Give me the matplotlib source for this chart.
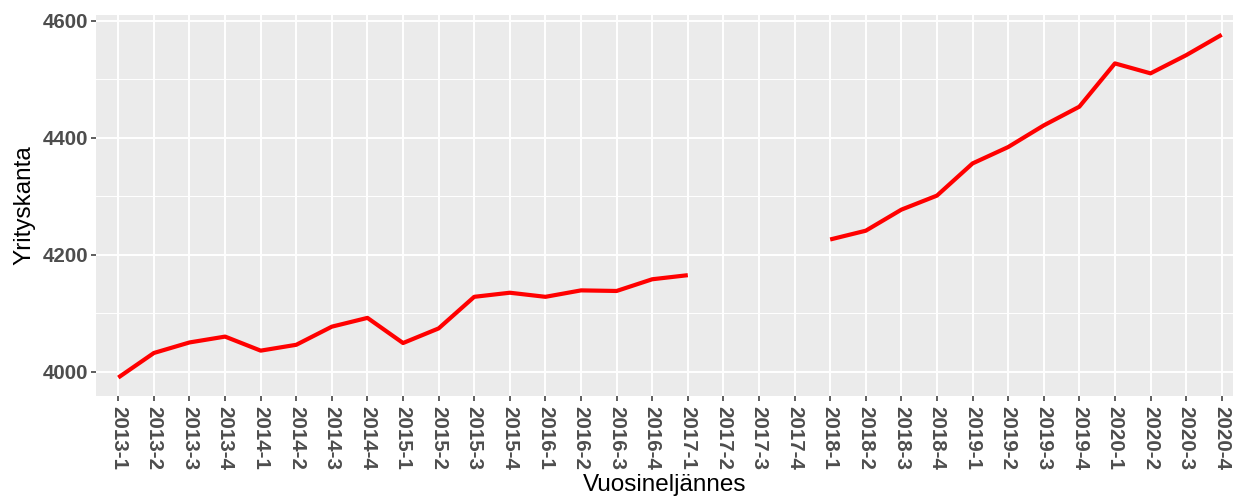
import numpy as np
import matplotlib
matplotlib.use("Agg")
import matplotlib.pyplot as plt

# quarters 2013-1 .. 2020-4
quarters = [f"{y}-{q}" for y in range(2013, 2021) for q in range(1, 5)]
# company count, gap for 2017-2 .. 2017-4
values = [3990, 4032, 4050, 4060, 4036, 4046, 4077, 4092,
          4049, 4074, 4128, 4135, 4128, 4139, 4138, 4158,
          4165, np.nan, np.nan, np.nan, 4226, 4241, 4277, 4301,
          4356, 4384, 4421, 4453, 4527, 4510, 4541, 4576]
y_ticks = [4000, 4200, 4400, 4600]

plt.rcParams['font.family'] = ['Liberation Sans', 'DejaVu Sans']

W, H = 1233, 498
fig = plt.figure(figsize=(W / 100, H / 100), dpi=100)
left, right, top, bottom = 96, 1233, 15, 395.7
ax = fig.add_axes([left / W, 1 - bottom / H, (right - left) / W, (bottom - top) / H])
ax.set_facecolor('#EBEBEB')

x = np.arange(len(quarters))
ax.plot(x, values, color='#FF0000', lw=3.0, solid_capstyle='butt', zorder=3)

# x range: 2013-1 at px 118.3, 2020-4 at px 1221.7
step = (1221.7 - 118.3) / (len(quarters) - 1)
ax.set_xlim(-(118.3 - left) / step, (len(quarters) - 1) + (right - 1221.7) / step)
ppu = (371.7 - 20.7) / 600
ax.set_ylim(4000 - (bottom - 371.7) / ppu, 4600 + (20.7 - top) / ppu)

ax.set_xticks(x)
ax.set_xticklabels(quarters, rotation=270, fontsize=14.8, fontweight='bold', color='#4D4D4D')
ax.set_yticks(y_ticks)
ax.set_yticklabels([str(v) for v in y_ticks], fontsize=14.8, fontweight='bold', color='#4D4D4D')
ax.set_yticks([4100, 4300, 4500], minor=True)

ax.grid(True, which='major', color='white', lw=1.4)
ax.grid(True, which='minor', axis='y', color='white', lw=0.7)
ax.set_axisbelow(True)
ax.tick_params(which='major', length=3.5, width=1.1, color='#333333', pad=2)
ax.tick_params(axis='x', which='major', pad=4)
ax.tick_params(which='minor', length=0)
for s in ax.spines.values():
    s.set_visible(False)

ax.set_xlabel('Vuosineljännes', fontsize=17.5, labelpad=3)
ax.set_ylabel('Yrityskanta', fontsize=17.5, labelpad=5)

fig.savefig('out.png', dpi=100)
